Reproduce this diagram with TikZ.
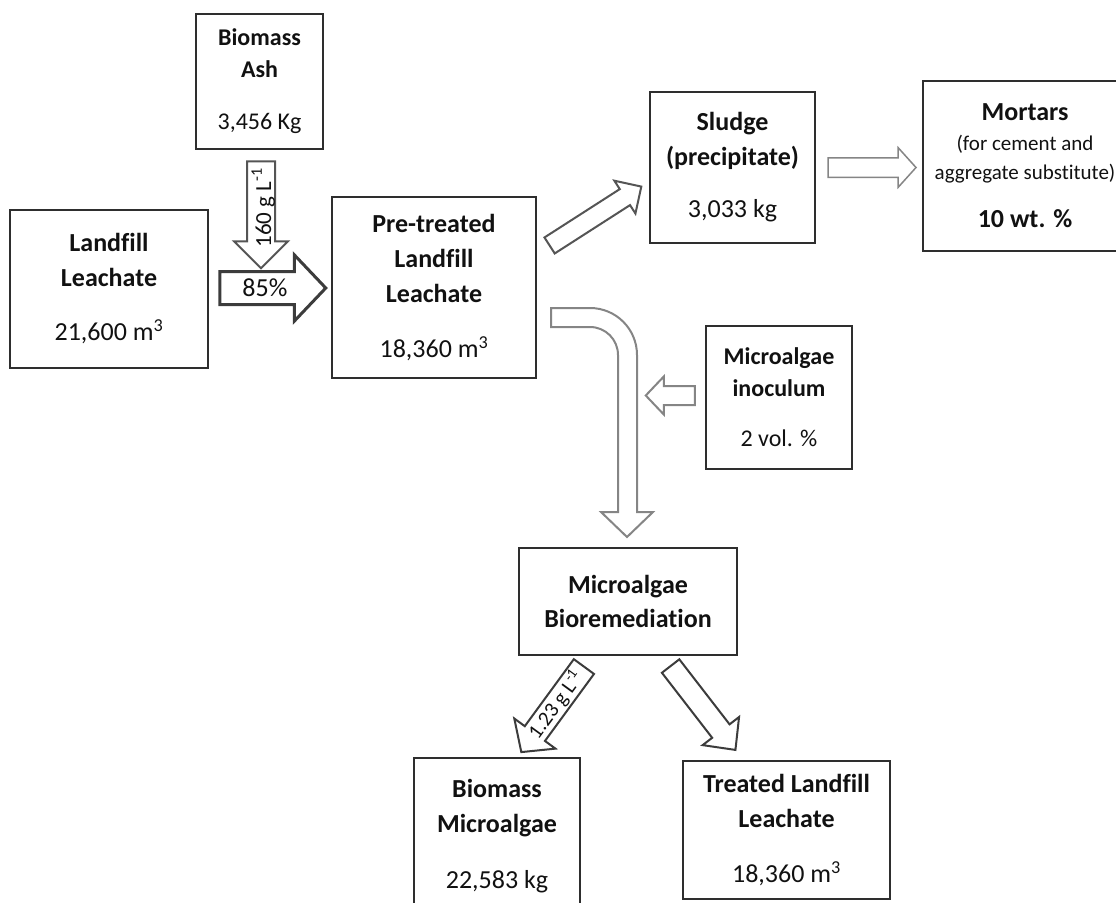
\documentclass[tikz,border=0pt]{standalone}
\usepackage{fontspec}
\setmainfont{Carlito}[Ligatures=NoCommon]
\usetikzlibrary{shapes.arrows}
\definecolor{boxline}{HTML}{2E2E2E}
\definecolor{darkarrow}{HTML}{3C3C3C}
\definecolor{midarrow}{HTML}{555555}
\definecolor{lightarrow}{HTML}{858585}
\definecolor{txt}{HTML}{111111}

\begin{document}
\begin{tikzpicture}[x=1pt,y=-1pt,
		box/.style={draw=boxline,line width=2.5pt,inner sep=0pt,align=center,text=txt,font=\fontsize{26}{35}\selectfont},
		smallbox/.style={box,font=\fontsize{24}{32}\selectfont},
		fat/.style={single arrow,draw,fill=white,inner sep=0pt,anchor=tail,text=txt,text depth=0pt}]
	\useasboundingbox (0,0) rectangle (1116,902);

	% boxes
	\node[smallbox,minimum width=127pt,minimum height=135pt] (ash)     at (259.5,81.5) {\textbf{Biomass}\\\textbf{Ash}\\[20pt]3,456 Kg};
	\node[box,minimum width=198pt,minimum height=158pt]      (leach)   at (109,289)    {\textbf{Landfill}\\\textbf{Leachate}\\[19pt]21,600 m\textsuperscript{3}};
	\node[box,minimum width=204pt,minimum height=181pt]      (pre)     at (434,287.5)  {\textbf{Pre-treated}\\\textbf{Landfill}\\\textbf{Leachate}\\[20pt]18,360 m\textsuperscript{3}};
	\node[box,minimum width=165pt,minimum height=151pt]      (sludge)  at (732.5,167.5){\textbf{Sludge}\\\textbf{(precipitate)}\\[17pt]3,033 kg};
	\node[box,minimum width=204pt,minimum height=170pt]      (mortar)  at (1025,166)   {\textbf{Mortars}\\[-5pt]\fontsize{21}{29}\selectfont (for cement and\\[-6pt]\fontsize{21}{29}\selectfont aggregate substitute)\\[13pt]\textbf{10 wt. \%}};
	\node[smallbox,minimum width=146pt,minimum height=143pt] (inoc)    at (779,397.5)  {\textbf{Microalgae}\\\textbf{inoculum}\\[18pt]2 vol. \%};
	\node[box,minimum width=218pt,minimum height=107pt]      (bio)     at (628,601.5)  {\textbf{Microalgae}\\[-1pt]\textbf{Bioremediation}};
	\node[box,minimum width=166pt,minimum height=156pt]      (biomic)  at (497,836)    {\textbf{Biomass}\\\textbf{Microalgae}\\[21pt]22,583 kg};
	\node[box,minimum width=207pt,minimum height=138pt]      (treated) at (786.5,830)  {\textbf{Treated Landfill}\\\textbf{Leachate}\\[20pt]18,360 m\textsuperscript{3}};

	% block arrows
	\node[fat,draw=darkarrow,line width=3pt,minimum height=106pt,single arrow head extend=16.5pt,single arrow tip angle=93,
		text height=23pt,text depth=7pt,font=\fontsize{26}{30}\selectfont] (mix) at ([xshift=9pt,yshift=1pt]leach.east) {85\%};
	\node[fat,draw=midarrow,line width=2pt,rotate=90,shape border rotate=180,minimum height=107pt,single arrow head extend=13pt,
		single arrow tip angle=90,text height=23pt,text depth=3pt,font=\fontsize{23}{26}\selectfont] (dose) at ([xshift=1.5pt,yshift=-10pt]ash.south) {160 g L\textsuperscript{-1}};
	\node[fat,draw=midarrow,line width=2pt,rotate=32.7,minimum height=109pt,single arrow head extend=10pt,
		single arrow tip angle=90,text height=17pt] (tosludge) at ([shift={(11.5,-41.5)}]pre.east) {};
	\node[fat,draw=lightarrow,line width=1.5pt,minimum height=88pt,single arrow head extend=10pt,
		single arrow tip angle=96,text height=18pt] (tomortar) at ([xshift=11pt]sludge.east) {};
	\node[fat,draw=lightarrow,line width=2pt,shape border rotate=180,minimum height=49pt,single arrow head extend=9.5pt,
		single arrow tip angle=93,text height=17pt] (addalgae) at ([xshift=-9pt,yshift=2pt]inoc.west) {};
	\node[fat,draw=darkarrow,line width=2pt,rotate=53.8,shape border rotate=180,minimum height=106pt,single arrow head extend=13pt,
		single arrow tip angle=96,text height=18pt,text depth=5pt,font=\fontsize{21}{24}\selectfont] (harvest) at ([xshift=-43.5pt,yshift=-9.5pt]bio.south) {1.23 g L\textsuperscript{-1}};
	\node[fat,draw=darkarrow,line width=2pt,rotate=-52.3,minimum height=106pt,single arrow head extend=12pt,
		single arrow tip angle=88,text height=20pt] (effluent) at ([xshift=42pt,yshift=-9pt]bio.south) {};

	% bent arrow from pre-treated leachate down to bioremediation
	\draw[draw=lightarrow,line width=2pt,fill=white,line join=miter]
		(551,308) -- (590,308) .. controls (616,308) and (637,329) .. (637,355) -- (637,512) -- (653,512) -- (627,537)
		-- (601,512) -- (618,512) -- (618,355) .. controls (618,339.5) and (605.5,327) .. (590,327) -- (551,327) -- cycle;
\end{tikzpicture}
\end{document}
